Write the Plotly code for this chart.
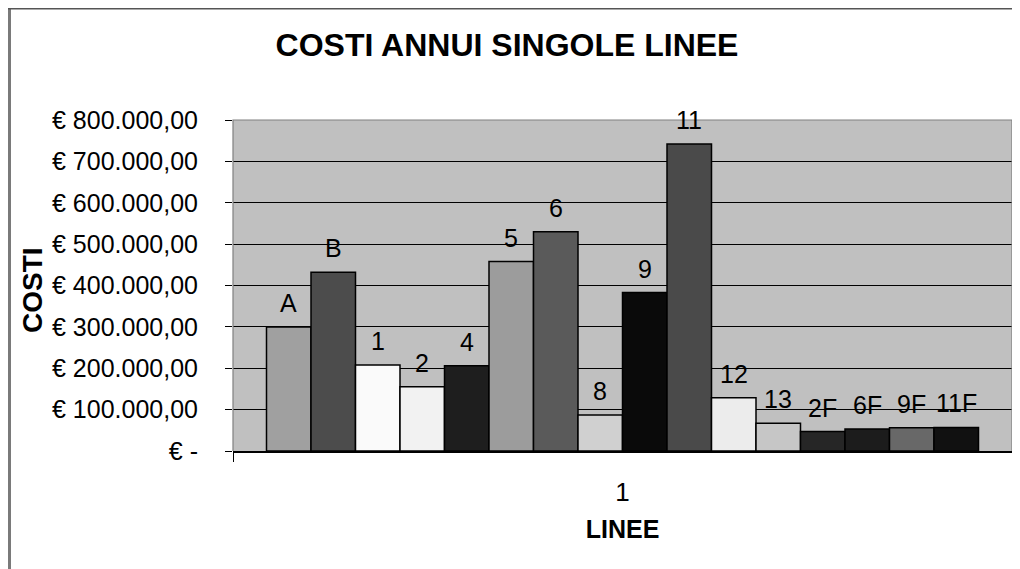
import plotly.graph_objects as go

# ---- data ----
category = ["1"]
series_names = ["A", "B", "1", "2", "4", "5", "6", "8", "9", "11", "12", "13", "2F", "6F", "9F", "11F"]
series_values = [300000, 432000, 208000, 155000, 206000, 458000, 530000, 87000, 383000,
                 742000, 129000, 67000, 47000, 53000, 56000, 57000]
series_colors = ["#a0a0a0", "#4c4c4c", "#fafafa", "#f2f2f2", "#1e1e1e", "#9c9c9c", "#5a5a5a",
                 "#d0d0d0", "#0a0a0a", "#4a4a4a", "#ececec", "#c6c6c6", "#262626", "#1c1c1c",
                 "#686868", "#111111"]
y_tick_values = [0, 100000, 200000, 300000, 400000, 500000, 600000, 700000, 800000]
y_tick_labels = ["€ -", "€ 100.000,00", "€ 200.000,00", "€ 300.000,00", "€ 400.000,00",
                 "€ 500.000,00", "€ 600.000,00", "€ 700.000,00", "€ 800.000,00"]

FONT = "Arial, Liberation Sans, sans-serif"
W, H = 1012, 561          # page has an 8px body margin
OFF = 8                   # page offset of the figure
PL, PT, PW, PH = 233, 120, 779, 331   # plot area in page pixels
L, T = PL - OFF, PT - OFF
R, B = W - L - PW, H - T - PH
BARGAP = 0.086

fig = go.Figure()
for name, val, col in zip(series_names, series_values, series_colors):
    fig.add_trace(go.Bar(
        x=category, y=[val], name=name,
        marker=dict(color=col, line=dict(color="#000000", width=1.5)),
        showlegend=False, hoverinfo="name+y",
    ))


def px_x(px):
    return (px - PL) / PW


def px_y(py):
    return (PT + PH - py) / PH


# value labels above each bar, placed in the bar's slot on the category axis
n = len(series_names)
slot = (1 - BARGAP) / n
label_annotations = [
    dict(x=-(1 - BARGAP) / 2 + (i + 0.5) * slot, y=val, xref="x", yref="y",
         text=name, showarrow=False, xanchor="center", yanchor="bottom", yshift=8,
         font=dict(family=FONT, size=25, color="#000000"))
    for i, (name, val) in enumerate(zip(series_names, series_values))
]

fig.update_layout(
    width=W, height=H,
    margin=dict(l=L, r=R, t=T, b=B),
    paper_bgcolor="#ffffff",
    plot_bgcolor="#c0c0c0",
    barmode="group", bargap=BARGAP, bargroupgap=0,
    font=dict(family=FONT, color="#000000"),
    title=dict(text="<b>COSTI ANNUI SINGOLE LINEE</b>", x=(507 - OFF) / W, xref="container",
               y=1 - (45 - OFF) / H, yref="container", xanchor="center", yanchor="middle",
               font=dict(family=FONT, size=32, color="#000000")),
    xaxis=dict(
        type="category", showgrid=False, showline=True, linecolor="#000000", linewidth=1.5,
        ticks="outside", tickson="boundaries", ticklen=9, tickcolor="#000000",
        tickfont=dict(family=FONT, size=26, color="#000000"), ticklabelstandoff=17,
        title=dict(text="<b>LINEE</b>", font=dict(family=FONT, size=25, color="#000000"),
                   standoff=15),
        fixedrange=True,
    ),
    yaxis=dict(
        range=[0, 800000], tickvals=y_tick_values, ticktext=y_tick_labels,
        showgrid=True, gridcolor="#000000", gridwidth=1, zeroline=False,
        showline=False, ticks="outside", ticklen=7, tickcolor="#000000",
        tickfont=dict(family=FONT, size=25, color="#000000"), ticklabelstandoff=22,
        fixedrange=True,
    ),
    annotations=label_annotations + [dict(
        text="<b>COSTI</b>", textangle=-90, xref="paper", yref="paper",
        x=px_x(32), y=px_y(290), xanchor="center", yanchor="middle", showarrow=False,
        font=dict(family=FONT, size=28, color="#000000"),
    )],
    shapes=[
        # grey plot-area frame (left, top, right)
        dict(type="path", xref="paper", yref="paper", path="M 0 0 L 0 1 L 1 1 L 1 0",
             line=dict(color="#808080", width=1.2), layer="above"),
        # outer chart border (cropped on right/bottom)
        dict(type="line", xref="paper", yref="paper", x0=px_x(OFF + 1.5), x1=px_x(OFF + 1.5),
             y0=px_y(OFF), y1=px_y(H + OFF + 10), line=dict(color="#7a7a7a", width=3)),
        dict(type="line", xref="paper", yref="paper", x0=px_x(OFF), x1=px_x(W + OFF + 10),
             y0=px_y(OFF + 0.8), y1=px_y(OFF + 0.8), line=dict(color="#555555", width=1.6)),
    ],
)

fig.write_html("out.html")
